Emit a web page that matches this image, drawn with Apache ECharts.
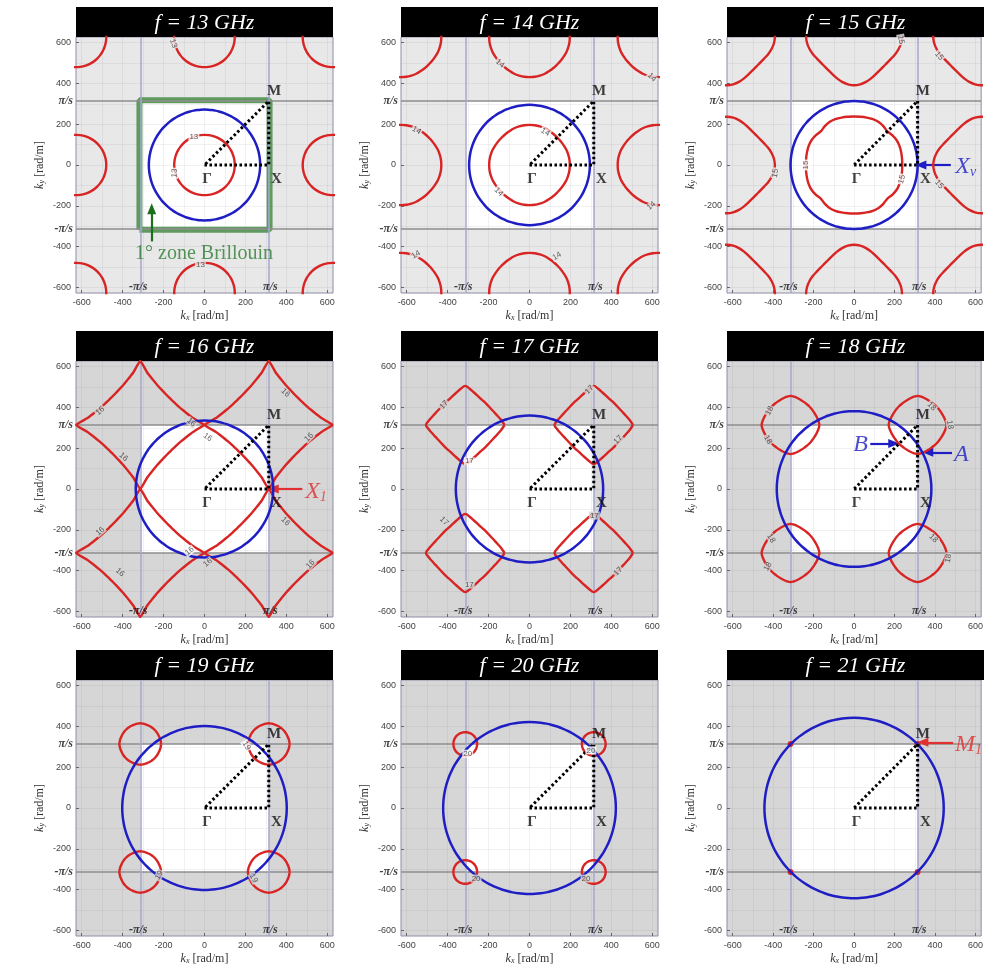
<!DOCTYPE html>
<html>
<head>
<meta charset="utf-8">
<script src="https://cdn.jsdelivr.net/npm/echarts@6/dist/echarts.min.js"></script>
<style>
  html, body { margin: 0; padding: 0; background: #fff; }
  #chart { width: 986px; height: 971px; }
</style>
</head>
<body>
<div id="chart"></div>
<script>
// ---- data ----
const freqs = [13, 14, 15, 16, 17, 18, 19, 20, 21];            // GHz
const lightRadius = [272, 295, 314, 336, 360, 382, 402, 422, 443]; // blue circle radius, rad/m
// red iso-frequency contours: centred on the Gamma lattice ('G') or on the M points ('M')
const contourCentre = ['G', 'G', 'G', 'M', 'M', 'M', 'M', 'M', 'M'];
// contour radius (rad/m) read every 7.5 deg over one octant, 0..45 deg
const octantStep = 7.5;
const r13 = [148, 148, 148, 148, 148, 148, 148];
const r14 = [197, 197, 196, 195, 193, 192, 191];
const r15 = [238, 239, 241, 243, 243, 239, 233];
const r15outer = [237, 234, 228, 220, 212, 207, 205];
const r16 = [314, 260, 232, 214, 203, 197, 195];
const r17 = [192, 178, 165, 156, 150, 147, 146];
const r18 = [143, 140, 136, 133, 131, 130, 130];
const r19 = [102, 101, 100, 99, 99, 99, 99];
const r20 = [58, 58, 58, 58, 58, 58, 58];
const r21 = [9, 9, 9, 9, 9, 9, 9];
const innerRadii = [r13, r14, r15, r16, r17, r18, r19, r20, r21];
const outerRadii = [r13, r14, r15outer, r16, r17, r18, r19, r20, r21];
const tickValues = [-600, -400, -200, 0, 200, 400, 600];
const gridValues = [-600, -500, -400, -300, -200, -100, 0, 100, 200, 300, 400, 500, 600];
const zoneEdge = 314;   // pi/s
const axisEdge = 628;   // 2pi/s

// where the little contour numbers sit: [kx, ky, rotation]
const contourLabelSpots = [
  [[-52, 136, 0], [-146, -40, 85], [-152, 596, -70], [-20, -492, 0]],
  [[77, 161, -30], [-150, -132, -45], [-144, 498, -40], [598, 430, -45], [595, -200, 40], [-552, 170, -30], [-555, -440, 30], [134, -447, 30]],
  [[-238, 0, 90], [236, -70, 75], [232, 615, -80], [420, 535, -50], [-389, -40, 80], [420, -95, -50]],
  [[-510, 383, 40], [-396, 157, -40], [-510, -207, 40], [-413, -409, -40], [-65, 327, -40], [16, 254, -35], [-73, -304, 40], [16, -361, 40], [396, 472, -45], [510, 254, 45], [396, -159, -45], [518, -369, 45]],
  [[-418, 413, 45], [-294, 136, 0], [293, 487, 45], [433, 242, 45], [-418, -158, -45], [-294, -469, 0], [317, -130, 0], [433, -404, 45]],
  [[-418, 384, 60], [-426, 242, -60], [383, 405, -45], [474, 315, -80], [-410, -242, -60], [-426, -381, 60], [392, -242, -45], [466, -340, 80]],
  [[205, 306, -60], [-222, -330, 60], [240, -345, -60]],
  [[-302, 266, 0], [300, 283, 0], [-261, -346, 0], [276, -346, 0]],
  []
];

// ---- layout ----
const colLeft = [76, 401, 727];
const rowTop = [37, 361, 680];
const plotW = 257, plotH = 256, barH = 30;
const serif = 'Liberation Serif', sans = 'Liberation Sans';
const RED = '#d92424', BLUE = '#1e1ec4';

function contourPoints(radii, cx, cy) {
  const pts = [];
  for (let k = 0; k <= 360 / octantStep; k++) {
    const deg = k * octantStep;
    let t = deg % 90;
    if (t > 45) t = 90 - t;
    const r = radii[Math.round(t / octantStep)];
    const a = deg * Math.PI / 180;
    pts.push([cx + r * Math.cos(a), cy + r * Math.sin(a)]);
  }
  return pts;
}

function circlePoints(r) {
  const pts = [];
  for (let k = 0; k <= 96; k++) {
    const a = k / 96 * 2 * Math.PI;
    pts.push([r * Math.cos(a), r * Math.sin(a)]);
  }
  return pts;
}

const grid = [], xAxis = [], yAxis = [], series = [], graphic = [];

freqs.forEach((f, i) => {
  const col = i % 3, row = Math.floor(i / 3);
  const left = colLeft[col], top = rowTop[row];
  const bg = row === 0 ? '#e8e8e8' : '#d6d6d6';
  const ax = { xAxisIndex: i, yAxisIndex: i };

  grid.push({ left, top, width: plotW, height: plotH, show: true,
    backgroundColor: bg, borderColor: '#8c8ca8', borderWidth: 1 });

  const common = {
    gridIndex: i, type: 'value', min: -axisEdge, max: axisEdge,
    axisLine: { show: false, onZero: false },
    splitLine: { show: false },
    axisTick: { show: true, inside: true, length: 3, customValues: tickValues,
      lineStyle: { color: '#666' } },
    axisLabel: { customValues: tickValues, fontSize: 9, color: '#444',
      fontFamily: sans, margin: 5 },
    nameLocation: 'middle',
    nameTextStyle: { fontFamily: serif, fontSize: 12, color: '#333',
      rich: {
        i: { fontFamily: serif, fontStyle: 'italic', fontSize: 12, color: '#333' },
        s: { fontFamily: serif, fontStyle: 'italic', fontSize: 8, color: '#333',
          verticalAlign: 'bottom', lineHeight: 6 }
      } }
  };
  xAxis.push(Object.assign({}, common, { name: '{i|k}{s|x} [rad/m]', nameGap: 17 }));
  yAxis.push(Object.assign({}, common, { name: '{i|k}{s|y} [rad/m]', nameGap: 30 }));

  // first Brillouin zone (white square)
  series.push({ type: 'line', ...ax, data: [], z: 1, silent: true, animation: false,
    markArea: { silent: true, itemStyle: { color: '#fff' },
      data: [[{ coord: [-zoneEdge, -zoneEdge] }, { coord: [zoneEdge, zoneEdge] }]] } });

  // faint grid
  series.push({ type: 'line', ...ax, data: [], z: 2, silent: true, animation: false,
    markLine: { silent: true, symbol: 'none', label: { show: false },
      lineStyle: { color: 'rgba(120,120,150,0.10)', width: 1, type: 'solid' },
      data: gridValues.map(v => ({ xAxis: v })).concat(gridValues.map(v => ({ yAxis: v }))) } });

  // pi/s lines
  series.push({ type: 'line', ...ax, data: [], z: 3, silent: true, animation: false,
    markLine: { silent: true, symbol: 'none', label: { show: false },
      lineStyle: { width: 1.5, type: 'solid' },
      data: [
        { yAxis: zoneEdge, lineStyle: { color: '#8e8e8e' } },
        { yAxis: -zoneEdge, lineStyle: { color: '#8e8e8e' } },
        { xAxis: zoneEdge, lineStyle: { color: '#a4a7cf' } },
        { xAxis: -zoneEdge, lineStyle: { color: '#a4a7cf' } }
      ] } });

  // green box on the 13 GHz panel
  if (i === 0) {
    const e = zoneEdge + 4;
    series.push({ type: 'line', ...ax, z: 4, silent: true, animation: false,
      symbol: 'none', lineStyle: { color: '#5f9b5f', width: 6 },
      data: [[-e, -e], [e, -e], [e, e], [-e, e], [-e, -e]] });
  }

  // red contours
  const centres = [];
  if (contourCentre[i] === 'G') {
    for (let m = -1; m <= 1; m++) for (let n = -1; n <= 1; n++) centres.push([m * axisEdge, n * axisEdge]);
  } else {
    [-1, 1].forEach(m => [-1, 1].forEach(n => centres.push([m * zoneEdge, n * zoneEdge])));
  }
  centres.forEach(c => {
    const inner = c[0] === 0 && c[1] === 0;
    series.push({ type: 'line', ...ax, z: 5, silent: true, animation: false,
      symbol: 'none', smooth: i === 3 ? 0.12 : 0.35,
      lineStyle: { color: RED, width: 2.4 },
      data: contourPoints(inner ? innerRadii[i] : outerRadii[i], c[0], c[1]) });
  });

  // light line (blue circle)
  series.push({ type: 'line', ...ax, z: 6, silent: true, animation: false,
    symbol: 'none', smooth: 0.3, lineStyle: { color: BLUE, width: 2.5 },
    data: circlePoints(lightRadius[i]) });

  // Gamma - X - M path
  series.push({ type: 'line', ...ax, z: 7, silent: true, animation: false,
    symbol: 'none', lineStyle: { color: '#000', width: 3, type: [2.5, 2.5] },
    data: [[0, 0], [zoneEdge, 0], [zoneEdge, zoneEdge], [0, 0]] });

  // texts
  const texts = [];
  const add = (x, y, text, label) => texts.push({ value: [x, y],
    label: Object.assign({ show: true, formatter: text, position: 'inside' }, label) });
  const pointFont = { fontFamily: serif, fontWeight: 'bold', fontSize: 15, color: '#111' };
  add(12, -68, 'Γ', pointFont);
  add(352, -68, 'X', pointFont);
  add(340, 362, 'M', pointFont);
  const piFont = { fontFamily: serif, fontWeight: 'bold', fontStyle: 'italic', fontSize: 12, color: '#111' };
  add(-axisEdge, zoneEdge, 'π/s', Object.assign({ position: 'left', distance: 3 }, piFont));
  add(-axisEdge, -zoneEdge, '-π/s', Object.assign({ position: 'left', distance: 3 }, piFont));
  add(-324, -598, '-π/s', piFont);
  add(322, -598, 'π/s', piFont);

  contourLabelSpots[i].forEach(s => {
    const inside = Math.abs(s[0]) < zoneEdge && Math.abs(s[1]) < zoneEdge;
    add(s[0], s[1], String(f), { fontFamily: sans, fontSize: 8, color: '#333',
      rotate: s[2], backgroundColor: inside ? '#fff' : bg, padding: [0, 1] });
  });

  const bigText = (color) => ({
    rich: {
      b: { fontFamily: serif, fontStyle: 'italic', fontSize: 24, color, lineHeight: 28, verticalAlign: 'bottom' },
      s: { fontFamily: serif, fontStyle: 'italic', fontSize: 14, color, lineHeight: 8, verticalAlign: 'bottom' }
    }
  });
  const arrows = [];
  if (i === 0) {
    add(-2, -436, '1° zone Brillouin', { fontFamily: serif, fontSize: 20, color: '#2e7d32' });
    arrows.push({ from: [-258, -375], to: [-258, -215], color: '#1e6e1e' });
  }
  if (i === 2) {
    add(552, 0, '{b|X}{s|v}', bigText(BLUE));
    arrows.push({ from: [478, 0], to: [330, 0], color: BLUE });
  }
  if (i === 3) {
    add(545, -4, '{b|X}{s|1}', bigText('#e03030'));
    arrows.push({ from: [478, 0], to: [336, 0], color: '#e03030' });
  }
  if (i === 5) {
    add(32, 225, '{b|B}', bigText(BLUE));
    arrows.push({ from: [80, 223], to: [196, 223], color: BLUE });
    add(530, 176, '{b|A}', bigText(BLUE));
    arrows.push({ from: [484, 180], to: [364, 180], color: BLUE });
  }
  if (i === 8) {
    add(565, 318, '{b|M}{s|1}', bigText('#e03030'));
    arrows.push({ from: [490, 322], to: [340, 322], color: '#e03030' });
  }

  series.push({ type: 'line', ...ax, data: [], z: 8, silent: true, animation: false,
    markLine: { silent: true, symbol: ['none', 'triangle'], symbolSize: [9, 11],
      label: { show: false },
      data: arrows.map(a => [
        { coord: a.from, lineStyle: { color: a.color, width: 2.2, type: 'solid' }, itemStyle: { color: a.color } },
        { coord: a.to }
      ]) } });

  series.push({ type: 'scatter', ...ax, z: 9, silent: true, animation: false,
    symbolSize: 0, clip: false, data: texts });

  // title bar
  graphic.push({ type: 'rect', left: left, top: top - barH, silent: true,
    shape: { width: plotW, height: barH }, style: { fill: '#000' } });
  graphic.push({ type: 'text', x: left + plotW / 2, y: top - barH / 2 + 1, silent: true,
    style: { text: 'f = ' + f + ' GHz', fill: '#fff', align: 'center', verticalAlign: 'middle',
      font: 'italic 22px "Liberation Serif"' } });
});

const chart = echarts.init(document.getElementById('chart'));
chart.setOption({ animation: false, grid, xAxis, yAxis, series, graphic });
window.addEventListener('resize', () => chart.resize());
</script>
</body>
</html>
